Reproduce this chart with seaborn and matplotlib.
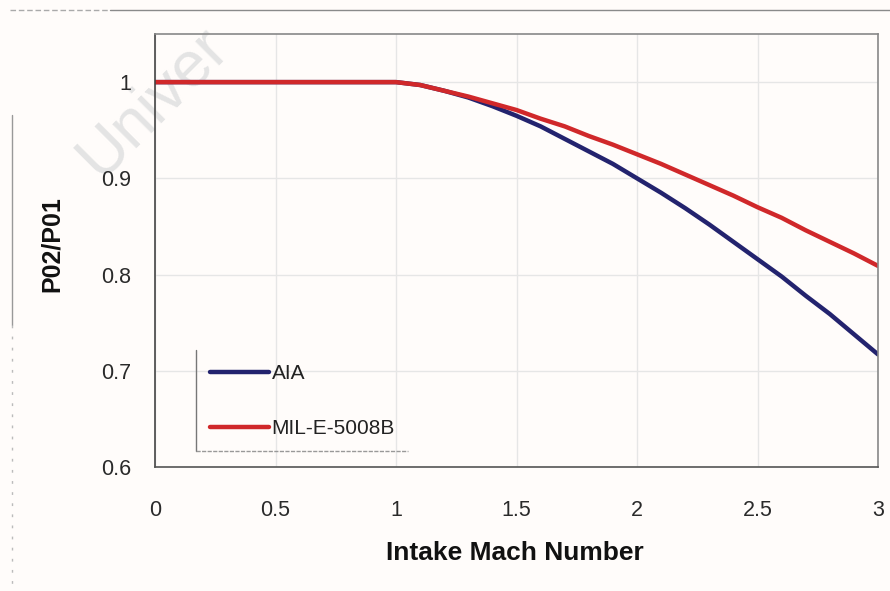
import matplotlib
matplotlib.use("Agg")
import matplotlib.pyplot as plt
import seaborn as sns
import pandas as pd
from matplotlib.lines import Line2D

# ---- data ----
mach = [0.0, 0.25, 0.5, 0.75, 1.0, 1.1, 1.2, 1.3, 1.4, 1.5, 1.6, 1.7, 1.8, 1.9, 2.0,
        2.1, 2.2, 2.3, 2.4, 2.5, 2.6, 2.7, 2.8, 2.9, 3.0]
aia = [1.0, 1.0, 1.0, 1.0, 1.0, 0.997, 0.991, 0.984, 0.975, 0.965, 0.954, 0.941, 0.928,
       0.915, 0.900, 0.885, 0.869, 0.852, 0.834, 0.816, 0.798, 0.778, 0.759, 0.738, 0.717]
mil = [1.0, 1.0, 1.0, 1.0, 1.0, 0.997, 0.991, 0.985, 0.978, 0.971, 0.962, 0.954, 0.944,
       0.935, 0.925, 0.915, 0.904, 0.893, 0.882, 0.870, 0.859, 0.846, 0.834, 0.822, 0.809]
series_names = ["AIA", "MIL-E-5008B"]
x_ticks = [0, 0.5, 1, 1.5, 2, 2.5, 3]
x_tick_labels = ["0", "0.5", "1", "1.5", "2", "2.5", "3"]
y_ticks = [0.6, 0.7, 0.8, 0.9, 1.0]
y_tick_labels = ["0.6", "0.7", "0.8", "0.9", "1"]

df = pd.concat([
    pd.DataFrame({"Mach": mach, "ratio": aia, "series": series_names[0]}),
    pd.DataFrame({"Mach": mach, "ratio": mil, "series": series_names[1]}),
])

sns.set_theme(style="white")
plt.rcParams["font.family"] = ["Liberation Sans", "DejaVu Sans"]

bg = "#fffcfa"
fig = plt.figure(figsize=(8.9, 5.91), dpi=100, facecolor=bg)
ax = fig.add_axes([155 / 890, 1 - 467 / 591, (878 - 155) / 890, (467 - 34) / 591])
ax.set_facecolor("none")

palette = {series_names[0]: "#23236e", series_names[1]: "#d0282a"}
sns.lineplot(data=df, x="Mach", y="ratio", hue="series", palette=palette,
             linewidth=3.2, ax=ax, legend=False, sort=False)

ax.set_xlim(0, 3)
ax.set_ylim(0.6, 1.05)
ax.set_xticks(x_ticks)
ax.set_xticklabels(x_tick_labels)
ax.set_yticks(y_ticks)
ax.set_yticklabels(y_tick_labels)
ax.tick_params(axis="both", length=0, labelsize=15.5, colors="#2a2a2a")
ax.tick_params(axis="y", pad=17)
ax.tick_params(axis="x", pad=24)
ax.grid(True, color="#e6e6e6", linewidth=1.0)
ax.set_axisbelow(True)

for side, col in [("left", "#444444"), ("bottom", "#555555"), ("top", "#888888"), ("right", "#888888")]:
    ax.spines[side].set_visible(True)
    ax.spines[side].set_color(col)
    ax.spines[side].set_linewidth(1.2)

ax.set_xlabel("Intake Mach Number", fontsize=19, fontweight="bold", color="#111111")
ax.set_ylabel("P02/P01", fontsize=18, fontweight="bold", color="#111111")
ax.yaxis.set_label_coords(52 / 890, 1 - 244 / 591, transform=fig.transFigure)
ax.xaxis.set_label_coords(515 / 890, 1 - 553 / 591, transform=fig.transFigure)
ax.xaxis.label.set_va("center")
ax.yaxis.label.set_va("center")

handles = [Line2D([], [], color=palette[n], linewidth=3.2) for n in series_names]
leg = ax.legend(handles, series_names, loc="upper left",
                bbox_to_anchor=(210 / 890, 1 - 364 / 591), bbox_transform=fig.transFigure,
                frameon=False, fontsize=15, handlelength=2.85, handletextpad=0.1,
                labelspacing=1.75, borderaxespad=0, borderpad=0)
for t in leg.get_texts():
    t.set_color("#222222")

# legend box remnants (left and bottom edges)
fig.add_artist(Line2D([196 / 890, 196 / 890], [1 - 350 / 591, 1 - 451 / 591],
                      transform=fig.transFigure, color="#777777", linewidth=1.0))
fig.add_artist(Line2D([196 / 890, 408 / 890], [1 - 451 / 591, 1 - 451 / 591],
                      transform=fig.transFigure, color="#999999", linewidth=1.0, linestyle=(0, (3, 1))))

# outer frame remnants
fig.add_artist(Line2D([110 / 890, 1.0], [1 - 10 / 591, 1 - 10 / 591],
                      transform=fig.transFigure, color="#8a8a8a", linewidth=1.0))
fig.add_artist(Line2D([10 / 890, 110 / 890], [1 - 10 / 591, 1 - 10 / 591],
                      transform=fig.transFigure, color="#aaaaaa", linewidth=1.0, linestyle=(0, (4, 2))))
fig.add_artist(Line2D([12 / 890, 12 / 890], [1 - 115 / 591, 1 - 325 / 591],
                      transform=fig.transFigure, color="#999999", linewidth=1.0))
fig.add_artist(Line2D([12 / 890, 12 / 890], [1 - 325 / 591, 1 - 591 / 591],
                      transform=fig.transFigure, color="#bbbbbb", linewidth=1.0, linestyle=(0, (2, 6))))

# faint watermark (behind the chart)
fig.text(100 / 890, 1 - 180 / 591, "Univer", fontsize=46, color="#e4e4e4",
         rotation=45, rotation_mode="anchor", ha="left", va="baseline", zorder=-1)

fig.savefig("out.png", dpi=100, facecolor=bg)
